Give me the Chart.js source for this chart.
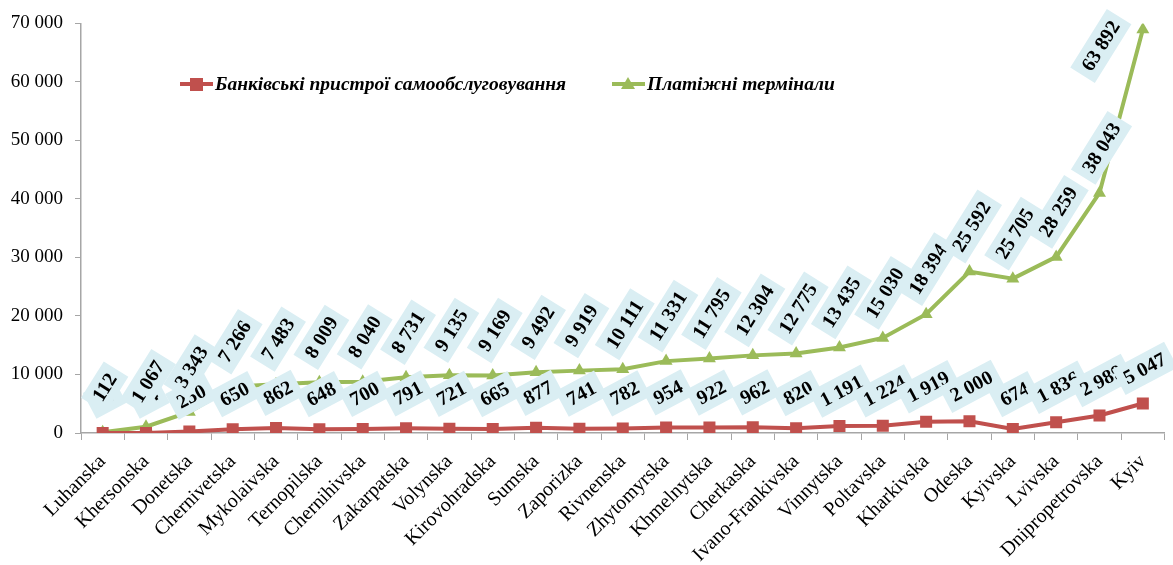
<!DOCTYPE html>
<html>
<head>
<meta charset="utf-8">
<script src="https://cdn.jsdelivr.net/npm/chart.js@4.4.1/dist/chart.umd.min.js"></script>
<style>
  html, body { margin: 0; padding: 0; background: #ffffff; }
  #wrap { width: 1173px; height: 565px; position: relative; }
</style>
</head>
<body>
<div id="wrap"><canvas id="regions-chart"></canvas></div>
<script>
const REGIONS = [
  "Luhanska", "Khersonska", "Donetska", "Chernivetska", "Mykolaivska",
  "Ternopilska", "Chernihivska", "Zakarpatska", "Volynska", "Kirovohradska",
  "Sumska", "Zaporizka", "Rivnenska", "Zhytomyrska", "Khmelnytska",
  "Cherkaska", "Ivano-Frankivska", "Vinnytska", "Poltavska", "Kharkivska",
  "Odeska", "Kyivska", "Lvivska", "Dnipropetrovska", "Kyiv",
];

const ATM_VALUES = [
  10, 14, 250, 650, 862, 648, 700, 791, 721, 665, 877, 741, 782,
  954, 922, 962, 820, 1191, 1224, 1919, 2000, 674, 1836, 2989, 5047,
];

const TERMINAL_VALUES = [
  112, 1067, 3343, 7266, 7483, 8009, 8040, 8731, 9135, 9169, 9492, 9919,
  10111, 11331, 11795, 12304, 12775, 13435, 15030, 18394, 25592, 25705,
  28259, 38043, 63892,
];

const ATM_LABEL = "Банківські пристрої самообслуговування";
const TERMINAL_LABEL = "Платіжні термінали";

const Y_MAX = 70000;
const Y_STEP = 10000;

const RED = "#C0504D";
const GREEN = "#9BBB59";
const LABEL_BOX = "#DAEEF3";
const AXIS_GREY = "#A6A6A6";
const SERIF = "'Liberation Serif', 'Times New Roman', serif";

function formatThousands(value) {
  return Math.round(value).toLocaleString("en-US").replace(/,/g, " ");
}

// labels style per dataset: rotation and offset above point
const LABEL_STYLE = [
  { angle: -28, dy: -35 },
  { angle: -58, dy: -45 },
];

const valueLabelsPlugin = {
  id: "valueLabels",
  afterDatasetsDraw(chart) {
    const ctx = chart.ctx;
    ctx.save();
    ctx.font = "bold 20px " + SERIF;
    ctx.textAlign = "center";
    ctx.textBaseline = "middle";

    chart.data.datasets.forEach(function (dataset, dsIndex) {
      const meta = chart.getDatasetMeta(dsIndex);
      const style = LABEL_STYLE[dsIndex];
      const rad = (style.angle * Math.PI) / 180;

      meta.data.forEach(function (point, i) {
        const text = formatThousands(dataset.data[i]);
        const boxW = ctx.measureText(text).width + 14;
        const boxH = 29;
        const halfBox =
          (Math.abs(Math.sin(rad)) * boxW + Math.abs(Math.cos(rad)) * boxH) / 2;

        let cx = point.x + 2;
        let cy = point.y + style.dy;
        if (cy - halfBox < 4) {
          cy = halfBox + 9;
          cx = point.x - 42;
        }

        ctx.save();
        ctx.translate(cx, cy);
        ctx.rotate(rad);
        ctx.fillStyle = LABEL_BOX;
        ctx.fillRect(-boxW / 2, -boxH / 2, boxW, boxH);
        ctx.fillStyle = "#000000";
        ctx.fillText(text, 0, 1);
        ctx.restore();
      });
    });

    ctx.restore();
  },
};

const legendPlugin = {
  id: "insideLegend",
  afterDraw(chart) {
    const ctx = chart.ctx;
    const items = [
      { x: 180, color: RED, style: "rect", text: ATM_LABEL },
      { x: 612, color: GREEN, style: "triangle", text: TERMINAL_LABEL },
    ];
    const y = 84;

    ctx.save();
    items.forEach(function (item) {
      ctx.strokeStyle = item.color;
      ctx.lineWidth = 4;
      ctx.beginPath();
      ctx.moveTo(item.x, y);
      ctx.lineTo(item.x + 33, y);
      ctx.stroke();

      ctx.fillStyle = item.color;
      ctx.beginPath();
      if (item.style === "rect") {
        ctx.rect(item.x + 10, y - 6, 13, 13);
      } else {
        ctx.moveTo(item.x + 16, y - 7);
        ctx.lineTo(item.x + 23, y + 5);
        ctx.lineTo(item.x + 9, y + 5);
        ctx.closePath();
      }
      ctx.fill();

      ctx.fillStyle = "#000000";
      ctx.font = "italic bold 19.5px " + SERIF;
      ctx.textAlign = "left";
      ctx.textBaseline = "middle";
      ctx.fillText(item.text, item.x + 35, y + 1);
    });
    ctx.restore();
  },
};

function createRegionsChart() {
  const canvas = document.getElementById("regions-chart");
  if (!canvas || typeof Chart === "undefined") {
    return;
  }

  new Chart(canvas.getContext("2d"), {
    type: "line",
    data: {
      labels: REGIONS,
      datasets: [
        {
          label: ATM_LABEL,
          data: ATM_VALUES,
          borderColor: RED,
          backgroundColor: RED,
          borderWidth: 4,
          pointStyle: "rect",
          pointRadius: 8.5,
          pointBorderWidth: 0,
          tension: 0,
          fill: false,
          stack: "all",
        },
        {
          label: TERMINAL_LABEL,
          data: TERMINAL_VALUES,
          borderColor: GREEN,
          backgroundColor: GREEN,
          borderWidth: 4,
          pointStyle: "triangle",
          pointRadius: 7.5,
          pointBorderWidth: 0,
          tension: 0,
          fill: false,
          stack: "all",
        },
      ],
    },
    options: {
      responsive: true,
      maintainAspectRatio: false,
      animation: false,
      layout: {
        padding: { top: 23, right: 8, left: 0, bottom: 0 },
      },
      plugins: {
        legend: { display: false },
        tooltip: { enabled: false },
      },
      scales: {
        x: {
          offset: true,
          grid: {
            offset: true,
            drawOnChartArea: false,
            drawTicks: true,
            tickLength: 7,
            color: AXIS_GREY,
          },
          border: { display: true, color: AXIS_GREY, width: 1.5 },
          ticks: {
            color: "#000000",
            font: { family: SERIF, size: 20 },
            minRotation: 45,
            maxRotation: 45,
            autoSkip: false,
            padding: 10,
          },
          afterFit: function (scale) {
            scale.height = 132;
          },
        },
        y: {
          stacked: true,
          min: 0,
          max: Y_MAX,
          grid: {
            drawOnChartArea: false,
            drawTicks: true,
            tickLength: 6,
            color: AXIS_GREY,
          },
          border: { display: true, color: AXIS_GREY, width: 1.5 },
          ticks: {
            stepSize: Y_STEP,
            color: "#000000",
            font: { family: SERIF, size: 19 },
            padding: 12,
            callback: function (value) {
              return formatThousands(value);
            },
          },
          afterFit: function (scale) {
            scale.width = 81;
          },
        },
      },
    },
    plugins: [valueLabelsPlugin, legendPlugin],
  });
}

window.addEventListener("DOMContentLoaded", createRegionsChart);
</script>
</body>
</html>
